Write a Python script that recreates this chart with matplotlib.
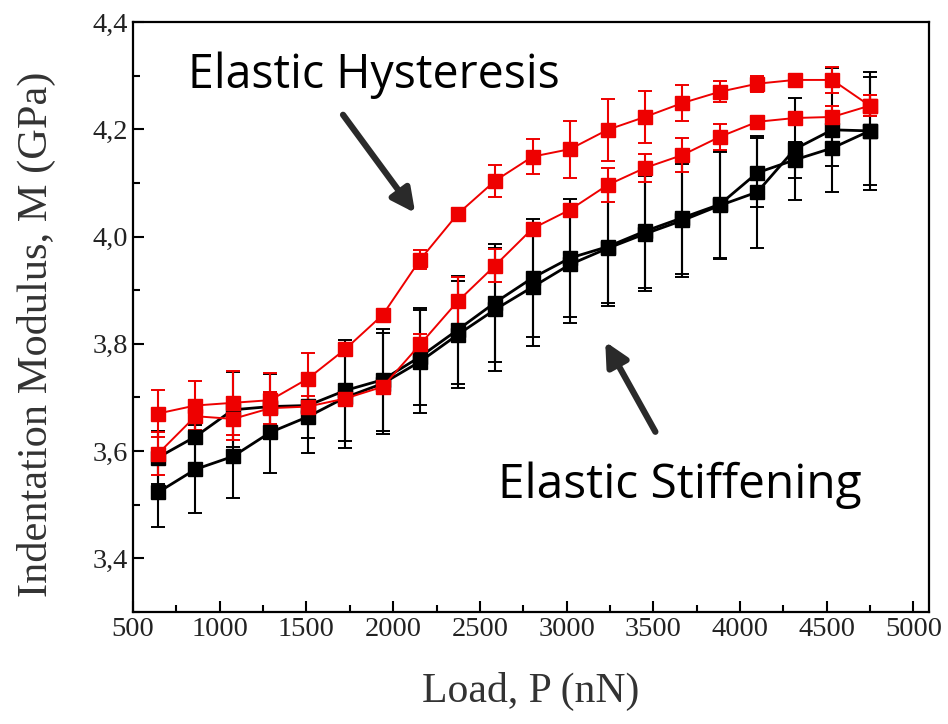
import matplotlib.pyplot as plt
from matplotlib.ticker import FuncFormatter, MultipleLocator

load = [644, 860, 1076, 1292, 1508, 1724, 1940, 2156, 2372, 2588,
        2804, 3020, 3236, 3452, 3668, 3884, 4100, 4316, 4532, 4748]

# red, upper curve (hysteresis)
red_up = [3.670, 3.685, 3.690, 3.695, 3.735, 3.790, 3.854, 3.957, 4.042, 4.104,
          4.149, 4.163, 4.199, 4.223, 4.249, 4.270, 4.285, 4.292, 4.292, 4.244]
red_up_err = [0.043, 0.045, 0.060, 0.050, 0.048, 0.004, 0.004, 0.018, 0.004, 0.030,
              0.032, 0.053, 0.058, 0.048, 0.033, 0.020, 0.015, 0.005, 0.024, 0.020]

# red, lower curve
red_lo = [3.595, 3.665, 3.660, 3.680, 3.683, 3.698, 3.720, 3.799, 3.879, 3.946,
          4.015, 4.050, 4.096, 4.128, 4.152, 4.186, 4.214, 4.221, 4.223, 4.244]
red_lo_err = [0.040, 0.030, 0.040, 0.030, 0.020, 0.010, 0.010, 0.020, 0.045, 0.030,
              0.010, 0.010, 0.032, 0.026, 0.032, 0.024, 0.010, 0.005, 0.020, 0.020]

# black curves
blk_a = [3.588, 3.627, 3.677, 3.683, 3.685, 3.713, 3.733, 3.776, 3.826, 3.877,
         3.923, 3.960, 3.981, 4.010, 4.035, 4.060, 4.119, 4.143, 4.165, 4.197]
blk_a_err = [0.050, 0.050, 0.070, 0.060, 0.060, 0.095, 0.095, 0.090, 0.100, 0.110,
             0.110, 0.110, 0.105, 0.105, 0.105, 0.100, 0.064, 0.033, 0.033, 0.100]
blk_b = [3.523, 3.566, 3.590, 3.635, 3.664, 3.700, 3.726, 3.767, 3.817, 3.864,
         3.906, 3.948, 3.978, 4.005, 4.030, 4.058, 4.083, 4.163, 4.199, 4.197]
blk_b_err = [0.065, 0.082, 0.078, 0.075, 0.068, 0.095, 0.095, 0.096, 0.100, 0.115,
             0.110, 0.110, 0.107, 0.107, 0.105, 0.100, 0.104, 0.095, 0.116, 0.110]

fig = plt.figure(figsize=(9.48, 7.24), dpi=100)
ax = fig.add_axes([0.1403, 0.1547, 0.8397, 0.8149])

for y, e, c, lw in [(blk_b, blk_b_err, 'black', 2.0), (blk_a, blk_a_err, 'black', 2.0),
                    (red_lo, red_lo_err, '#ee0000', 1.4), (red_up, red_up_err, '#ee0000', 1.4)]:
    ax.errorbar(load, y, yerr=e, color=c, lw=lw, marker='s', ms=10.5,
                mec=c, mfc=c, capsize=5, capthick=1.4, elinewidth=1.5)

ax.set_xlim(500, 5090)
ax.set_ylim(3.3, 4.4)
ax.xaxis.set_major_locator(MultipleLocator(500))
ax.xaxis.set_minor_locator(MultipleLocator(250))
ax.yaxis.set_major_locator(MultipleLocator(0.2))
ax.yaxis.set_minor_locator(MultipleLocator(0.1))
ax.yaxis.set_major_formatter(FuncFormatter(lambda v, p: f'{v:.1f}'.replace('.', ',')))
ax.tick_params(which='both', direction='in', top=False, right=False,
               labelsize=20.5, width=1.5)
ax.tick_params(which='major', length=8)
ax.tick_params(which='minor', length=5)
for lab in ax.get_xticklabels() + ax.get_yticklabels():
    lab.set_family('Liberation Serif')
    lab.set_color('#222222')
for s in ax.spines.values():
    s.set_linewidth(1.6)

ax.set_xlabel('Load, P (nN)', family='Liberation Serif', fontsize=30,
              color='#333333', labelpad=22)
ax.set_ylabel('Indentation Modulus, M (GPa)', family='Liberation Serif',
              fontsize=30.5, color='#333333')
ax.yaxis.set_label_coords(-0.097, 0.47)

fig.text(0.198, 0.896, 'Elastic Hysteresis', family='Open Sans', fontsize=33.5,
         va='center', ha='left')
fig.text(0.525, 0.33, 'Elastic Stiffening', family='Open Sans', fontsize=34.5,
         va='center', ha='left')

arrow = dict(arrowstyle='-|>,head_length=1.4,head_width=0.7', color='#2a2a2a',
             lw=4.5, shrinkA=0, shrinkB=0)
ax.annotate('', xy=(2127, 4.044), xytext=(1711, 4.227), arrowprops=arrow)
ax.annotate('', xy=(3223, 3.804), xytext=(3512, 3.636), arrowprops=arrow)

fig.savefig('out.png')
